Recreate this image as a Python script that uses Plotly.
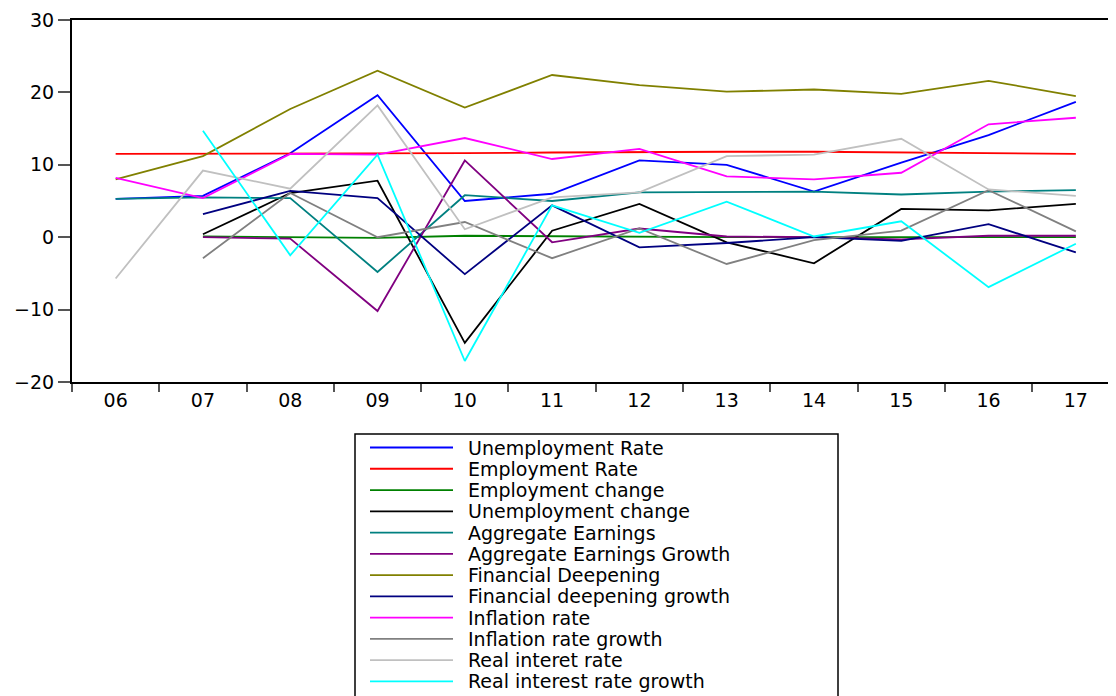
import plotly.graph_objects as go

years = ["06", "07", "08", "09", "10", "11", "12", "13", "14", "15", "16", "17"]

unemployment_rate = [5.3, 5.7, 11.6, 19.6, 5.0, 6.0, 10.6, 10.0, 6.3, 10.3, 14.1, 18.7]
employment_rate = [11.5, 11.5, 11.5, 11.5, 11.6, 11.7, 11.8, 11.8, 11.8, 11.7, 11.6, 11.5]
employment_change = [None, 0.1, 0.0, -0.1, 0.2, 0.1, 0.0, 0.0, 0.0, 0.0, 0.0, 0.0]
unemployment_change = [None, 0.4, 6.1, 7.8, -14.6, 0.9, 4.6, -0.7, -3.6, 3.9, 3.7, 4.6]
aggregate_earnings = [5.3, 5.5, 5.4, -4.8, 5.8, 5.0, 6.2, 6.3, 6.3, 5.9, 6.3, 6.5]
aggregate_earnings_growth = [None, 0.0, -0.2, -10.2, 10.6, -0.7, 1.2, 0.1, 0.0, -0.3, 0.2, 0.2]
financial_deepening = [8.0, 11.2, 17.7, 23.0, 17.9, 22.4, 21.0, 20.1, 20.4, 19.8, 21.6, 19.5]
financial_deepening_growth = [None, 3.2, 6.4, 5.4, -5.1, 4.4, -1.4, -0.8, 0.0, -0.5, 1.8, -2.1]
inflation_rate = [8.2, 5.4, 11.5, 11.4, 13.7, 10.8, 12.2, 8.4, 8.0, 8.9, 15.6, 16.5]
inflation_rate_growth = [None, -2.9, 6.1, 0.0, 2.1, -2.9, 1.2, -3.7, -0.4, 0.9, 6.5, 0.8]
real_interest_rate = [-5.7, 9.2, 6.7, 18.2, 1.1, 5.5, 6.2, 11.2, 11.4, 13.6, 6.6, 5.7]
real_interest_rate_growth = [None, 14.7, -2.5, 11.4, -17.1, 4.4, 0.6, 4.9, 0.1, 2.2, -6.9, -0.9]

series_names = [
    "Unemployment Rate", "Employment Rate", "Employment change", "Unemployment change",
    "Aggregate Earnings", "Aggregate Earnings Growth", "Financial Deepening",
    "Financial deepening growth", "Inflation rate", "Inflation rate growth",
    "Real interet rate", "Real interest rate growth",
]
series_values = [
    unemployment_rate, employment_rate, employment_change, unemployment_change,
    aggregate_earnings, aggregate_earnings_growth, financial_deepening,
    financial_deepening_growth, inflation_rate, inflation_rate_growth,
    real_interest_rate, real_interest_rate_growth,
]
series_colors = [
    "#0000FF", "#FF0000", "#008000", "#000000", "#008080", "#800080",
    "#808000", "#000080", "#FF00FF", "#808080", "#C0C0C0", "#00FFFF",
]

# page body has an 8px margin; the figure is sized so the plot lands in place
OFF = 8
W, H = 1116 - OFF, 696 - OFF
L, R, T, B = 72, 1116, 20, 382   # absolute page pixels of the plot area
FONT = "DejaVu Sans"


def px(x):
    return (x - L) / (R - L)


def py(y):
    return (B - y) / (B - T)


fig = go.Figure()
for name, vals, col in zip(series_names, series_values, series_colors):
    fig.add_trace(go.Scatter(x=years, y=vals, mode="lines", name=name,
                             line=dict(color=col, width=1.8), connectgaps=False,
                             showlegend=False))

shapes = []
annotations = []
# legend box (extends past the bottom edge like the reference)
shapes.append(dict(type="rect", xref="paper", yref="paper",
                   x0=px(355), x1=px(838), y0=py(705), y1=py(434),
                   line=dict(color="black", width=1.5), fillcolor="white", layer="above"))
y0 = 447.5
step = 21.27
for i, (name, col) in enumerate(zip(series_names, series_colors)):
    yy = y0 + i * step
    shapes.append(dict(type="line", xref="paper", yref="paper",
                       x0=px(370), x1=px(453), y0=py(yy), y1=py(yy),
                       line=dict(color=col, width=1.8), layer="above"))
    annotations.append(dict(xref="paper", yref="paper", x=px(466), y=py(yy),
                            text=name, showarrow=False, xanchor="left", yanchor="middle",
                            font=dict(family=FONT, size=19, color="black")))

fig.update_layout(
    width=W, height=H,
    margin=dict(l=L - OFF, r=(OFF + W) - R, t=T - OFF, b=(OFF + H) - B, pad=0),
    paper_bgcolor="white", plot_bgcolor="white",
    showlegend=False,
    shapes=shapes, annotations=annotations,
    xaxis=dict(type="category", range=[-0.5, 11.46], showgrid=False, zeroline=False,
               showline=True, linecolor="black", linewidth=2, mirror=True,
               ticks="outside", tickson="boundaries", ticklen=8, tickwidth=1.5,
               tickcolor="#555555",
               tickfont=dict(family=FONT, size=19, color="black")),
    yaxis=dict(range=[-20, 30], dtick=10, tick0=0, showgrid=False, zeroline=False,
               showline=True, linecolor="black", linewidth=2, mirror=False,
               ticks="outside", ticklen=12, tickwidth=1.5, tickcolor="#555555",
               tickfont=dict(family=FONT, size=19, color="black")),
)

fig.write_html("out.html")
